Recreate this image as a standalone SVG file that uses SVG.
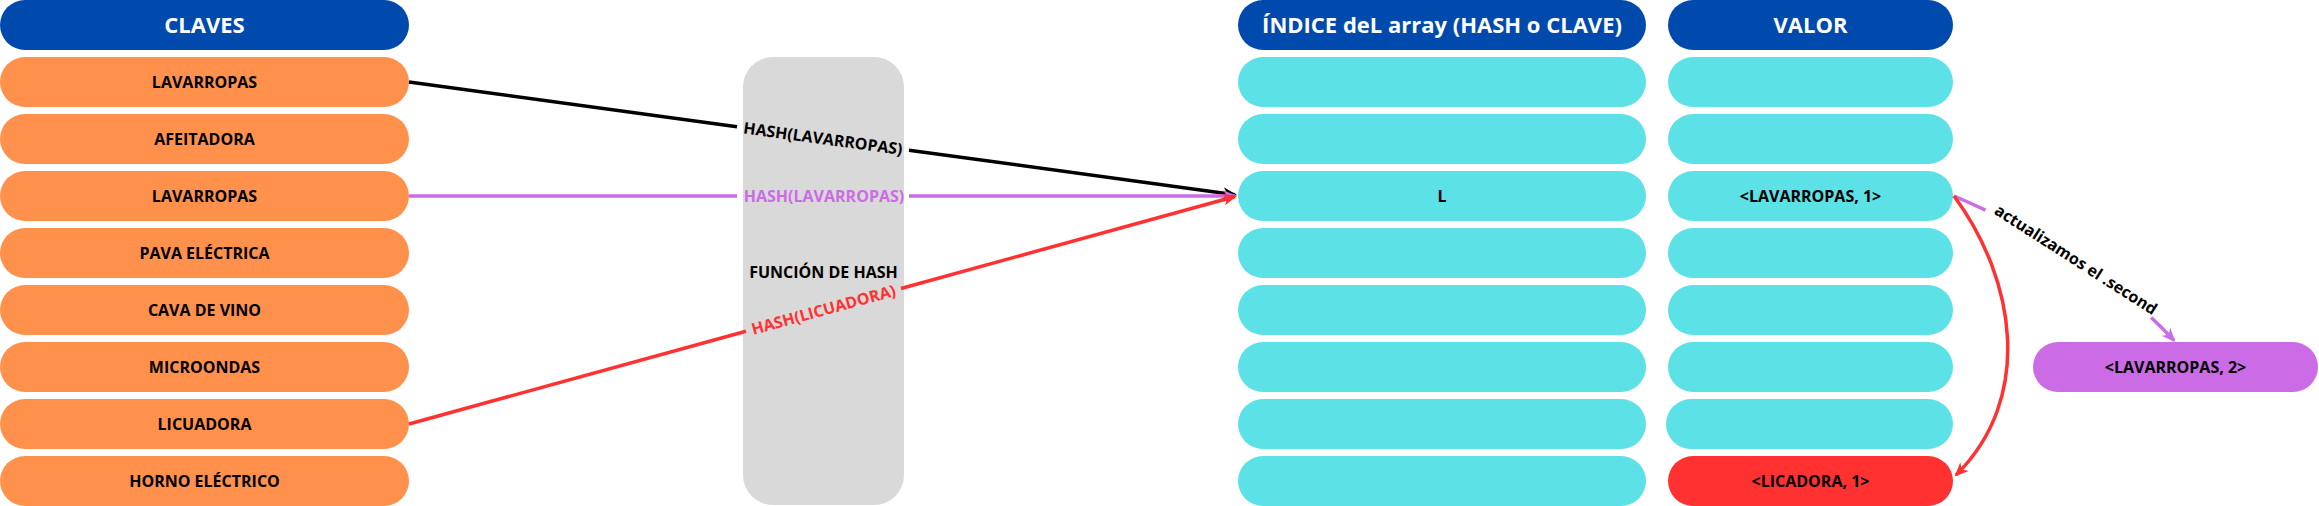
<svg xmlns="http://www.w3.org/2000/svg" width="2319" height="506" viewBox="0 0 2319 506">
<style>
text{font-family:"Open Sans","Noto Sans","Liberation Sans",sans-serif;font-weight:bold;text-anchor:middle}
.hdr{fill:#004aad}
.hdr-t{fill:#ffffff;font-size:22px}
.key{fill:#ff914d}
.cell{fill:#5ce1e6}
.t{fill:#000000;font-size:16px}
.ln{fill:none;stroke-width:3.5}
</style>
<defs>
<marker id="ab" viewBox="0 0 14 12" refX="12" refY="6" markerWidth="14" markerHeight="12" markerUnits="userSpaceOnUse" orient="auto"><path d="M0,0 L14,6 L0,12 L4,6 Z" fill="#000000"/></marker>
<marker id="ap" viewBox="0 0 14 12" refX="12" refY="6" markerWidth="14" markerHeight="12" markerUnits="userSpaceOnUse" orient="auto"><path d="M0,0 L14,6 L0,12 L4,6 Z" fill="#cb6ce6"/></marker>
<marker id="ar" viewBox="0 0 14 12" refX="12" refY="6" markerWidth="14" markerHeight="12" markerUnits="userSpaceOnUse" orient="auto"><path d="M0,0 L14,6 L0,12 L4,6 Z" fill="#ff3131"/></marker>
</defs>
<g id="hdr-claves"><rect class="hdr" x="0" y="0" width="409" height="50" rx="25"/><text class="hdr-t" x="204.5" y="33">CLAVES</text></g>
<g id="hdr-indice"><rect class="hdr" x="1238" y="0" width="408" height="50" rx="25"/><text class="hdr-t" x="1442" y="33">ÍNDICE deL array (HASH o CLAVE)</text></g>
<g id="hdr-valor"><rect class="hdr" x="1668" y="0" width="285" height="50" rx="25"/><text class="hdr-t" x="1810.5" y="33">VALOR</text></g>
<g id="k1"><rect class="key" x="0" y="57" width="409" height="50" rx="25"/><text class="t" x="204.5" y="88">LAVARROPAS</text></g>
<g id="k2"><rect class="key" x="0" y="114" width="409" height="50" rx="25"/><text class="t" x="204.5" y="145">AFEITADORA</text></g>
<g id="k3"><rect class="key" x="0" y="171" width="409" height="50" rx="25"/><text class="t" x="204.5" y="202">LAVARROPAS</text></g>
<g id="k4"><rect class="key" x="0" y="228" width="409" height="50" rx="25"/><text class="t" x="204.5" y="259">PAVA ELÉCTRICA</text></g>
<g id="k5"><rect class="key" x="0" y="285" width="409" height="50" rx="25"/><text class="t" x="204.5" y="316">CAVA DE VINO</text></g>
<g id="k6"><rect class="key" x="0" y="342" width="409" height="50" rx="25"/><text class="t" x="204.5" y="373">MICROONDAS</text></g>
<g id="k7"><rect class="key" x="0" y="399" width="409" height="50" rx="25"/><text class="t" x="204.5" y="430">LICUADORA</text></g>
<g id="k8"><rect class="key" x="0" y="456" width="409" height="50" rx="25"/><text class="t" x="204.5" y="487">HORNO ELÉCTRICO</text></g>
<g id="hashfn"><rect x="743" y="57" width="161" height="448" rx="30" fill="#d9d9d9"/><text class="t" x="823.5" y="277.5">FUNCIÓN DE HASH</text></g>
<g id="i1"><rect class="cell" x="1238" y="57" width="408" height="50" rx="25"/></g>
<g id="i2"><rect class="cell" x="1238" y="114" width="408" height="50" rx="25"/></g>
<g id="i3"><rect class="cell" x="1238" y="171" width="408" height="50" rx="25"/><text class="t" x="1442" y="202">L</text></g>
<g id="i4"><rect class="cell" x="1238" y="228" width="408" height="50" rx="25"/></g>
<g id="i5"><rect class="cell" x="1238" y="285" width="408" height="50" rx="25"/></g>
<g id="i6"><rect class="cell" x="1238" y="342" width="408" height="50" rx="25"/></g>
<g id="i7"><rect class="cell" x="1238" y="399" width="408" height="50" rx="25"/></g>
<g id="i8"><rect class="cell" x="1238" y="456" width="408" height="50" rx="25"/></g>
<g id="v1"><rect class="cell" x="1668" y="57" width="285" height="50" rx="25"/></g>
<g id="v2"><rect class="cell" x="1668" y="114" width="285" height="50" rx="25"/></g>
<g id="v3"><rect class="cell" x="1668" y="171" width="285" height="50" rx="25"/><text class="t" x="1810.5" y="202">&lt;LAVARROPAS, 1&gt;</text></g>
<g id="v4"><rect class="cell" x="1668" y="228" width="285" height="50" rx="25"/></g>
<g id="v5"><rect class="cell" x="1668" y="285" width="285" height="50" rx="25"/></g>
<g id="v6"><rect class="cell" x="1668" y="342" width="285" height="50" rx="25"/></g>
<g id="v7"><rect class="cell" x="1666" y="399" width="287" height="50" rx="25"/></g>
<g id="v8"><rect x="1668" y="456" width="285" height="50" rx="25" fill="#ff3131"/><text class="t" x="1810.5" y="487">&lt;LICADORA, 1&gt;</text></g>
<g id="new-val"><rect x="2033" y="342" width="285" height="50" rx="25" fill="#cb6ce6"/><text class="t" x="2175.5" y="373">&lt;LAVARROPAS, 2&gt;</text></g>
<g id="connectors">
<path class="ln" stroke="#000000" d="M409,82 L737,126.8"/>
<path class="ln" stroke="#000000" d="M909,150.2 L1235,194.7" marker-end="url(#ab)"/>
<g transform="translate(823,138.5) rotate(7.77)"><text class="t" x="0" y="5.7">HASH(LAVARROPAS)</text></g>
<path class="ln" stroke="#cb6ce6" d="M409,196 L737,196"/>
<path class="ln" stroke="#cb6ce6" d="M909,196 L1235,196" marker-end="url(#ap)"/>
<text class="t" x="824" y="201.7" style="fill:#cb6ce6">HASH(LAVARROPAS)</text>
<path class="ln" stroke="#ff3131" d="M409,424 L746,331.2"/>
<path class="ln" stroke="#ff3131" d="M901,288.5 L1235,196.5" marker-end="url(#ar)"/>
<g transform="translate(823.5,309.8) rotate(-15.4)"><text class="t" x="0" y="5.7" style="fill:#ff3131">HASH(LICUADORA)</text></g>
<path class="ln" stroke="#cb6ce6" d="M1954,196 Q1970.2,202.9 1985.5,210.1"/>
<path class="ln" stroke="#cb6ce6" d="M2151.2,317.5 Q2163.9,329.6 2174,340.5" marker-end="url(#ap)"/>
<g transform="translate(2076,259.6) rotate(32.7)"><text class="t" x="0" y="5.7">actualizamos el .second</text></g>
<path class="ln" stroke="#ff3131" d="M1954,196 C2016,280 2034,398 1956,475" marker-end="url(#ar)"/>
</g>
</svg>
